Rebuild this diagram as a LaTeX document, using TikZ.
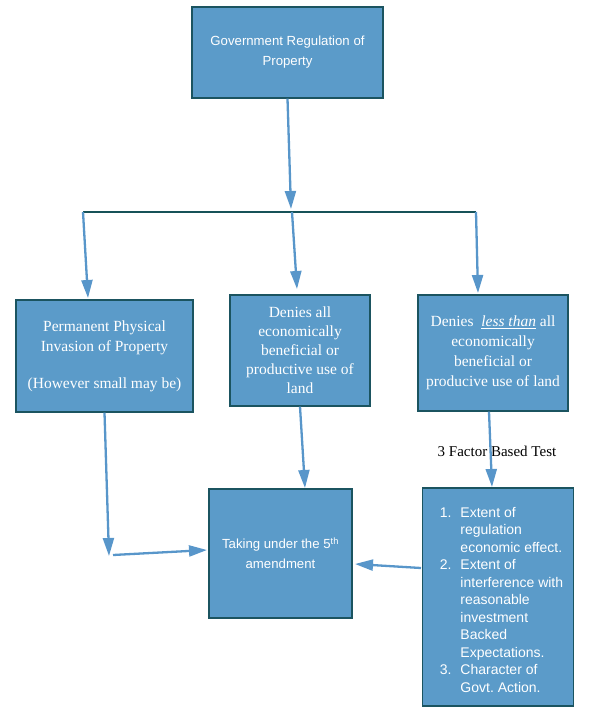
\documentclass[tikz,border=0pt]{standalone}
\usepackage{fontspec}
\setmainfont{Liberation Serif}
\newfontfamily\arialf{Liberation Sans}
\usetikzlibrary{arrows.meta}
\definecolor{boxfill}{RGB}{91,155,201}
\definecolor{boxline}{RGB}{27,84,96}
\definecolor{arrblue}{RGB}{88,150,202}
\definecolor{barline}{RGB}{22,82,88}
\begin{document}
\begin{tikzpicture}[x=1pt,y=-1pt,
  box/.style={draw=boxline,line width=1.3pt,fill=boxfill,text=white,inner sep=0pt,align=center},
  sanstext/.style={font=\arialf\fontsize{13.2}{20}\selectfont},
  arr/.style={draw=arrblue,line width=2.3pt,-{Triangle[length=18pt,width=11pt]}},
  bar/.style={draw=barline,line width=2.6pt}]
\useasboundingbox (0,0) rectangle (600,716);

\node[box,sanstext,minimum width=191pt,minimum height=91pt] (gov) at (287.5,52.5) {Government Regulation of\\Property};

\node[box,font=\fontsize{15.5}{20}\selectfont,minimum width=177pt,minimum height=112pt] (inv) at (104.5,356) {Permanent Physical\\Invasion of Property\\[17pt](However small may be)};
\node[box,font=\fontsize{15.5}{19}\selectfont,minimum width=140pt,minimum height=111pt] (all) at (300,350.5) {Denies all\\economically\\beneficial or\\productive use of\\land};
\node[box,font=\fontsize{15.5}{20}\selectfont,minimum width=150pt,minimum height=116pt] (less) at (493,353) {Denies\ \ \underline{\textit{less than}} all\\economically\\beneficial or\\producive use of land};

\node[box,sanstext,minimum width=143pt,minimum height=129pt] (take) at (280.5,553.5) {Taking under the 5\textsuperscript{th}\\amendment};
\node[box,font=\arialf\fontsize{14}{17.5}\selectfont,minimum width=151pt,minimum height=218pt] (test) at (498,597) {\hspace*{7pt}\raisebox{-4pt}[\height][\depth]{\begin{tabular}{@{}r@{\hspace{9pt}}l@{}}1.&Extent of\\&regulation\\&economic effect.\\2.&Extent of\\&interference with\\&reasonable\\&investment\\&Backed\\&Expectations.\\3.&Character of\\&Govt.\ Action.\end{tabular}}};

\node[font=\fontsize{15}{18}\selectfont,inner sep=0pt] (fact) at (497,451) {3 Factor Based Test};

\coordinate (t0) at (291,209);
\coordinate (bL) at (83,212);
\coordinate (bM) at (292,212);
\coordinate (bR) at (476,212);
\coordinate (t1) at (88,298);
\coordinate (t2) at (297,289);
\coordinate (t3) at (478,293);
\coordinate (t4) at (109,556);
\coordinate (s5) at (113,555);
\coordinate (t5) at (207,550);
\coordinate (t6) at (305,488);
\coordinate (t7) at (492,487);
\coordinate (t8) at (355,564);
\coordinate (s8) at (421,568);

\draw[arr] (gov.south) -- (t0);
\draw[bar] (bL) -- (bR);
\draw[arr] (bL) -- (t1);
\draw[arr] (bM) -- (t2);
\draw[arr] (bR) -- (t3);
\draw[arr] (inv.south) -- (t4);
\draw[arr] (s5) -- (t5);
\draw[arr] (all.south) -- (t6);
\draw[arr] ([xshift=-4pt]less.south) -- (t7);
\draw[arr] (s8) -- (t8);
\end{tikzpicture}
\end{document}
